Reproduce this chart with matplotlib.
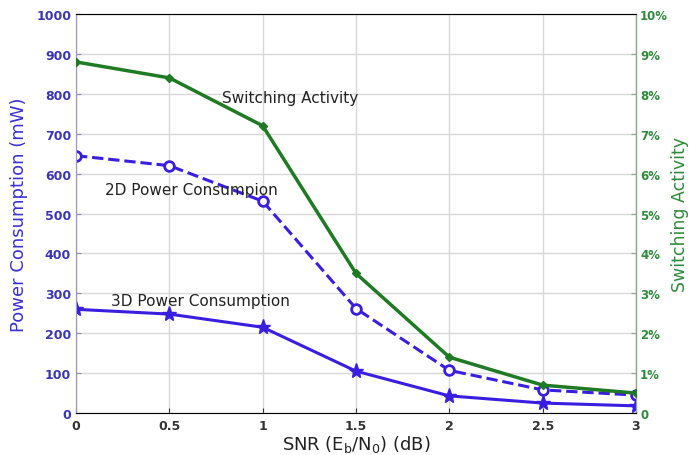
import matplotlib.pyplot as plt
from matplotlib.ticker import FuncFormatter

snr = [0, 0.5, 1, 1.5, 2, 2.5, 3]
power2d = [645, 620, 531, 262, 107, 58, 45]
power3d = [260, 248, 215, 105, 43, 25, 18]
switching = [8.8, 8.4, 7.2, 3.5, 1.4, 0.7, 0.5]

blue = '#3a1ee0'
blueText = '#3b35b0'
green = '#1f7a24'
greenText = '#2f8a3c'

fig = plt.figure(figsize=(6.93, 4.56), dpi=100)
ax = fig.add_axes([0.1097, 0.092, 0.808, 0.875])
ax2 = ax.twinx()

ax.plot(snr, power2d, color=blue, linestyle='--', linewidth=2.2,
        marker='o', markersize=7, markerfacecolor='white', markeredgewidth=2, zorder=3)
ax.plot(snr, power3d, color=blue, linewidth=2.2,
        marker='*', markersize=11, zorder=3)
ax2.plot(snr, switching, color=green, linewidth=2.5,
         marker='D', markersize=4.5, zorder=3)

ax.set_xlim(0, 3)
ax.set_ylim(0, 1000)
ax2.set_ylim(0, 10)
ax.set_xticks(snr)
ax.set_xticklabels(['0', '0.5', '1', '1.5', '2', '2.5', '3'])
ax.set_yticks(range(0, 1001, 100))
ax2.set_yticks(range(0, 11))
ax2.yaxis.set_major_formatter(FuncFormatter(lambda v, p: '0' if v == 0 else f'{int(v)}%'))

ax.grid(True, color='#d8d8d8', linewidth=1)
ax.set_axisbelow(True)

ax.tick_params(axis='x', labelsize=9, direction='in', colors='#333333', pad=4)
ax.tick_params(axis='y', labelsize=9, direction='in', labelcolor=blueText, color='#8888bb')
ax2.tick_params(axis='y', labelsize=8.5, direction='in', labelcolor=greenText, color='#88aa88', pad=3)
for lbl in ax.get_xticklabels() + ax.get_yticklabels() + ax2.get_yticklabels():
    lbl.set_fontweight('bold')

for side in ['left', 'bottom', 'top']:
    ax.spines[side].set_color('#9999bb')
ax2.spines['right'].set_color('#88aa88')
ax2.spines['left'].set_color('#9999bb')

ax.set_xlabel(r'SNR (E$_\mathrm{b}$/N$_\mathrm{0}$) (dB)', fontsize=13, color='#222222', labelpad=1)
ax.set_ylabel('Power Consumption (mW)', fontsize=13, color='#3a2fd0', labelpad=6)
ax2.set_ylabel('Switching Activity', fontsize=12.5, color=greenText, labelpad=2)

ax.text(1.146, 792, 'Switching Activity', fontsize=11, color='#222222', ha='center', va='center')
ax.text(0.616, 561, '2D Power Consumpion', fontsize=11, color='#222222', ha='center', va='center')
ax.text(0.664, 281, '3D Power Consumption', fontsize=11, color='#222222', ha='center', va='center')

plt.savefig('out.png', dpi=100)
